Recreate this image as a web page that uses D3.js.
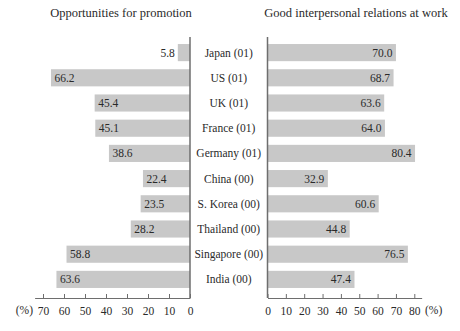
<!DOCTYPE html>
<html>
<head>
<meta charset="utf-8">
<script src="https://cdn.jsdelivr.net/npm/d3@7"></script>
<style>
  html, body { margin: 0; padding: 0; background: #fff; }
  svg { display: block; font-family: "Liberation Serif", "DejaVu Serif", serif; }
</style>
</head>
<body>
<svg id="chart" width="460" height="331"></svg>
<script>
// Countries (survey year in brackets)
const countries = ["Japan (01)", "US (01)", "UK (01)", "France (01)", "Germany (01)",
                   "China (00)", "S. Korea (00)", "Thailand (00)", "Singapore (00)", "India (00)"];
// Share (%) naming "opportunities for promotion"
const promotion = [5.8, 66.2, 45.4, 45.1, 38.6, 22.4, 23.5, 28.2, 58.8, 63.6];
// Share (%) naming "good interpersonal relations at work"
const relations = [70.0, 68.7, 63.6, 64.0, 80.4, 32.9, 60.6, 44.8, 76.5, 47.4];
const leftTicks = [0, 10, 20, 30, 40, 50, 60, 70];
const rightTicks = [0, 10, 20, 30, 40, 50, 60, 70, 80];
const titles = ["Opportunities for promotion", "Good interpersonal relations at work"];

const svg = d3.select("#chart");
const barColor = "#c8c8c8";
const axisColor = "#6e6e6e";
const textColor = "#2a2a2a";

const leftZero = 190, rightZero = 267.5;
const xL = d3.scaleLinear().domain([0, 74]).range([leftZero, leftZero - 74 * 2.1]);
const xR = d3.scaleLinear().domain([0, 84]).range([rightZero, rightZero + 84 * 1.835]);
const y = d3.scaleBand().domain(countries).range([40, 292])
  .paddingInner(0.32).paddingOuter(0.16);
const axisY = 298;

// bars
svg.append("g").selectAll("rect").data(countries).join("rect")
  .attr("x", (d, i) => xL(promotion[i]))
  .attr("y", d => y(d))
  .attr("width", (d, i) => leftZero - xL(promotion[i]))
  .attr("height", y.bandwidth())
  .attr("fill", barColor);

svg.append("g").selectAll("rect").data(countries).join("rect")
  .attr("x", rightZero)
  .attr("y", d => y(d))
  .attr("width", (d, i) => xR(relations[i]) - rightZero)
  .attr("height", y.bandwidth())
  .attr("fill", barColor);

// value labels
const fmt = d3.format(".1f");
svg.append("g").selectAll("text").data(countries).join("text")
  .attr("x", (d, i) => {
    const w = leftZero - xL(promotion[i]);
    return w < 25 ? xL(promotion[i]) - 3 : xL(promotion[i]) + 3.5;
  })
  .attr("text-anchor", (d, i) => (leftZero - xL(promotion[i]) < 25 ? "end" : "start"))
  .attr("y", d => y(d) + y.bandwidth() / 2)
  .attr("dy", "0.35em")
  .attr("font-size", 11.5)
  .attr("fill", textColor)
  .text((d, i) => fmt(promotion[i]));

svg.append("g").selectAll("text").data(countries).join("text")
  .attr("x", (d, i) => xR(relations[i]) - 3.5)
  .attr("text-anchor", "end")
  .attr("y", d => y(d) + y.bandwidth() / 2)
  .attr("dy", "0.35em")
  .attr("font-size", 11.5)
  .attr("fill", textColor)
  .text((d, i) => fmt(relations[i]));

// country labels between the two panels
svg.append("g").selectAll("text").data(countries).join("text")
  .attr("x", (leftZero + rightZero) / 2)
  .attr("y", d => y(d) + y.bandwidth() / 2)
  .attr("dy", "0.35em")
  .attr("text-anchor", "middle")
  .attr("font-size", 11.5)
  .attr("fill", textColor)
  .text(d => d);

// bottom axes (ticks pointing up)
function styleAxis(g) {
  g.select(".domain").attr("stroke", axisColor).attr("stroke-width", 1.2);
  g.selectAll(".tick line").attr("stroke", axisColor).attr("stroke-width", 1);
  g.selectAll(".tick text").attr("fill", textColor).attr("font-size", 11.5)
    .attr("font-family", "Liberation Serif, DejaVu Serif, serif");
}
const gL = svg.append("g").attr("transform", `translate(0,${axisY})`)
  .call(d3.axisBottom(xL).tickValues(leftTicks).tickSizeInner(-4).tickSizeOuter(0).tickPadding(9));
styleAxis(gL);
const gR = svg.append("g").attr("transform", `translate(0,${axisY})`)
  .call(d3.axisBottom(xR).tickValues(rightTicks).tickSizeInner(-4).tickSizeOuter(0).tickPadding(9));
styleAxis(gR);

// unit labels
svg.append("text").attr("x", 33).attr("y", 314).attr("text-anchor", "end")
  .attr("font-size", 11.5).attr("fill", textColor).text("(%)");
svg.append("text").attr("x", 425).attr("y", 314).attr("text-anchor", "start")
  .attr("font-size", 11.5).attr("fill", textColor).text("(%)");

// vertical baselines
[leftZero, rightZero].forEach(x => {
  svg.append("line").attr("x1", x).attr("x2", x).attr("y1", 37).attr("y2", axisY)
    .attr("stroke", axisColor).attr("stroke-width", 1.5);
});

// panel titles
svg.append("text").attr("x", 121).attr("y", 17).attr("text-anchor", "middle")
  .attr("font-size", 12.5).attr("fill", textColor).text(titles[0]);
svg.append("text").attr("x", 356).attr("y", 17).attr("text-anchor", "middle")
  .attr("font-size", 12.5).attr("fill", textColor).text(titles[1]);
</script>
</body>
</html>
